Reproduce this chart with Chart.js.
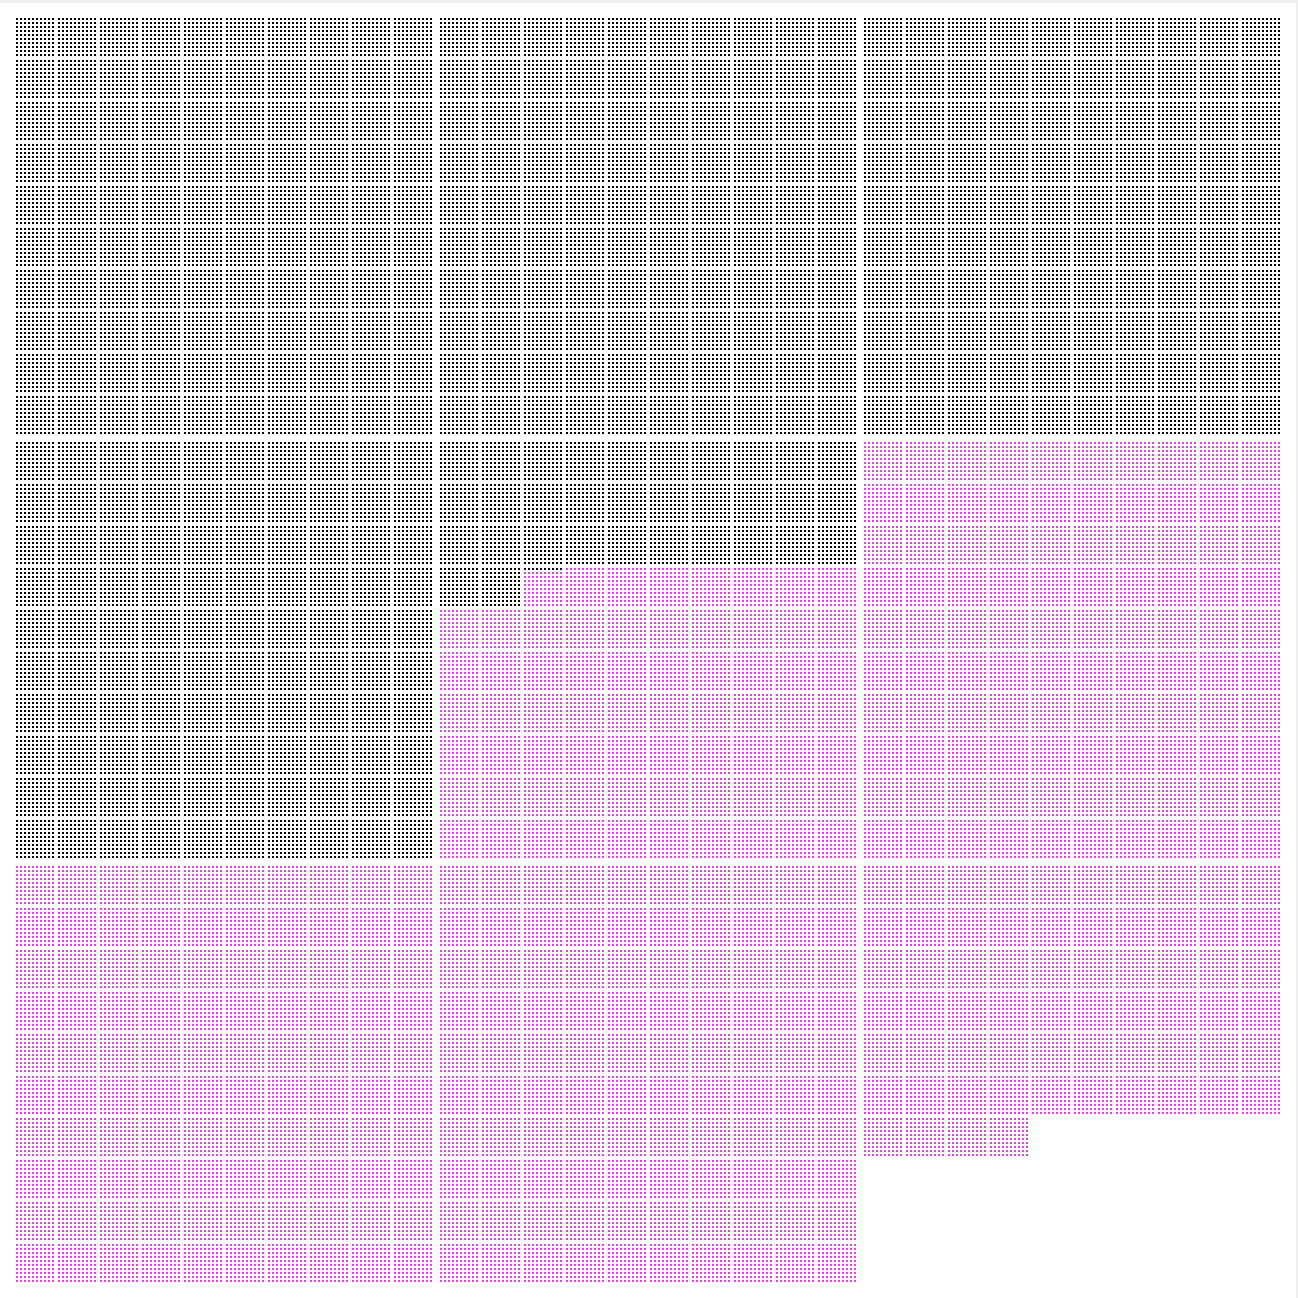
<!DOCTYPE html>
<html>
<head>
<meta charset="utf-8">
<script src="https://cdn.jsdelivr.net/npm/chart.js@4"></script>
<style>
  html, body { margin: 0; padding: 0; background: #efefef; }
  #wrap { position: absolute; left: 0; top: 3px; width: 1296px; height: 1295px; background: #ffffff; }
</style>
</head>
<body>
<div id="wrap"><canvas id="c"></canvas></div>
<script>
// ---- data ----
const categories = ['Group A', 'Group B'];
const counts = [43210, 43190];
const seriesColors = ['#000000', '#e63ee6'];

// ---- waffle layout (dots -> sub-blocks -> blocks) ----
const DOTS = 10, SUBS = 10, BLOCK_COLS = 3;
const SUB_PITCH = 10.5, BLOCK_PITCH = 106;

function position(k) {
  const perSub = DOTS * DOTS, perBlock = perSub * SUBS * SUBS;
  const b = Math.floor(k / perBlock), r = k % perBlock;
  const s = Math.floor(r / perSub), d = r % perSub;
  return {
    x: (b % BLOCK_COLS) * BLOCK_PITCH + (s % SUBS) * SUB_PITCH + (d % DOTS),
    y: Math.floor(b / BLOCK_COLS) * BLOCK_PITCH + Math.floor(s / SUBS) * SUB_PITCH + Math.floor(d / DOTS)
  };
}

let offset = 0;
const datasets = categories.map((name, i) => {
  const pts = [];
  for (let j = 0; j < counts[i]; j++) pts.push(position(offset + j));
  offset += counts[i];
  return {
    label: name,
    data: pts,
    backgroundColor: seriesColors[i],
    pointStyle: 'rect',
    pointRadius: Math.SQRT2,
    pointBorderWidth: 0,
    pointHoverRadius: Math.SQRT2
  };
});

new Chart(document.getElementById('c'), {
  type: 'scatter',
  data: { datasets },
  options: {
    responsive: true,
    maintainAspectRatio: false,
    animation: false,
    parsing: false,
    normalized: true,
    events: [],
    layout: { padding: 0, autoPadding: false },
    plugins: { legend: { display: false }, tooltip: { enabled: false } },
    scales: {
      x: { type: 'linear', display: false, min: -4.25, max: 319.75 },
      y: { type: 'linear', display: false, reverse: true, min: -4, max: 319.75 }
    }
  }
});
</script>
</body>
</html>
